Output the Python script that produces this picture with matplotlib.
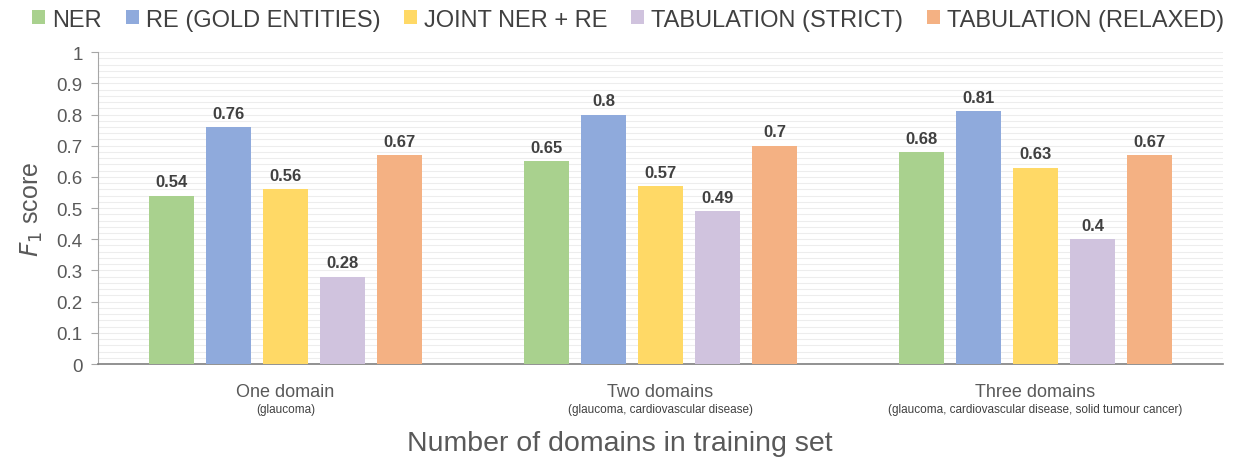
import matplotlib.pyplot as plt
import numpy as np
from matplotlib.ticker import MultipleLocator

plt.rcParams['font.family'] = ['Liberation Sans', 'DejaVu Sans']

groups = ['One domain', 'Two domains', 'Three domains']
subtitles = ['(glaucoma)', '(glaucoma, cardiovascular disease)',
             '(glaucoma, cardiovascular disease, solid tumour cancer)']
series = ['NER', 'RE (GOLD ENTITIES)', 'JOINT NER + RE', 'TABULATION (STRICT)', 'TABULATION (RELAXED)']
ner = [0.54, 0.65, 0.68]
re_gold = [0.76, 0.8, 0.81]
joint = [0.56, 0.57, 0.63]
tab_strict = [0.28, 0.49, 0.4]
tab_relaxed = [0.67, 0.7, 0.67]
values = [ner, re_gold, joint, tab_strict, tab_relaxed]
colors = ['#A9D18E', '#8FAADC', '#FFD966', '#D0C3DE', '#F4B183']
text_gray = '#595959'

fig = plt.figure(figsize=(12.39, 4.6), dpi=100)
ax = fig.add_axes([0.0791, 0.2065, 0.908, 0.678])

x = np.arange(len(groups))
step = 0.152
width = 0.12
for i, (name, vals, c) in enumerate(zip(series, values, colors)):
    pos = x + (i - 2) * step
    bars = ax.bar(pos, vals, width, color=c, label=name, zorder=3)
    for b, v in zip(bars, vals):
        ax.text(b.get_x() + b.get_width() / 2, v + 0.02, f'{v:g}', ha='center', va='bottom',
                fontsize=12, fontweight='bold', color='#404040')

ax.set_xlim(-0.5, 2.5)
ax.set_ylim(0, 1)
ax.yaxis.set_minor_locator(MultipleLocator(0.02))
ax.set_yticks(np.arange(0, 1.01, 0.1))
ax.set_yticklabels(['0', '0.1', '0.2', '0.3', '0.4', '0.5', '0.6', '0.7', '0.8', '0.9', '1'])
ax.grid(axis='y', which='both', color='#EDEDED', linewidth=0.8, zorder=0)
ax.tick_params(axis='y', which='major', colors='#A6A6A6', labelcolor=text_gray, labelsize=13.5, length=5, pad=6)
ax.tick_params(axis='y', which='minor', length=0)
ax.tick_params(axis='x', length=0, labelbottom=False)
for s in ['top', 'right']:
    ax.spines[s].set_visible(False)
ax.spines['left'].set_color('#A6A6A6')
ax.spines['bottom'].set_color('#7F7F7F')
ax.spines['bottom'].set_linewidth(1.2)

for xi, g, st in zip(x, groups, subtitles):
    ax.text(xi, -0.06, g, transform=ax.get_xaxis_transform(), ha='center', va='top',
            fontsize=13, color=text_gray)
    ax.text(xi, -0.125, st, transform=ax.get_xaxis_transform(), ha='center', va='top',
            fontsize=8.5, color='#404040')

ax.set_ylabel('$F_1$ score', fontsize=18, color=text_gray, labelpad=8)
fig.text(0.5, 0.035, 'Number of domains in training set', ha='center', va='center',
         fontsize=20.5, color=text_gray)

fig.legend(loc='center', bbox_to_anchor=(0.507, 0.955), ncol=5, frameon=False,
           fontsize=17, handlelength=0.55, handleheight=0.55, handletextpad=0.3,
           columnspacing=1.0, labelcolor='#404040')

fig.savefig('out.png', dpi=100)
